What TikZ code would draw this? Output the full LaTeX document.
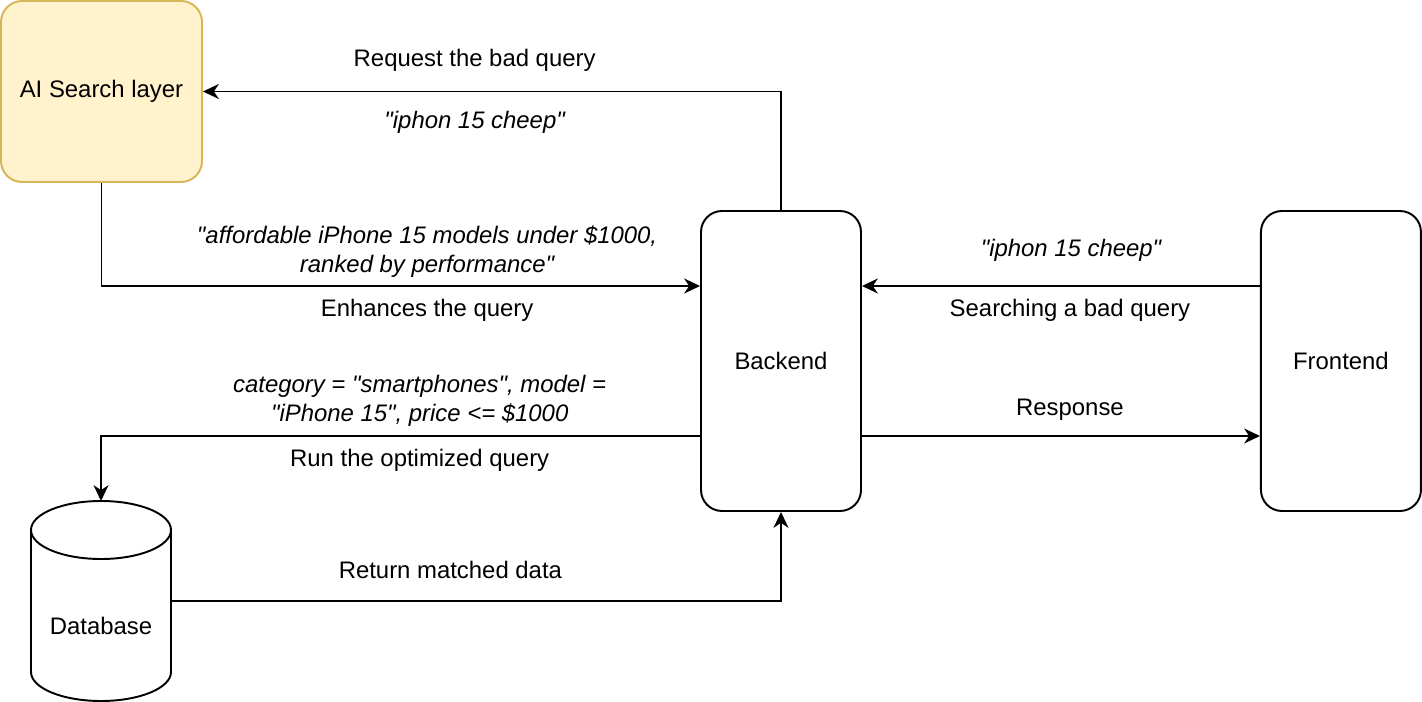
\documentclass[tikz,border=0pt]{standalone}
\usepackage{fontspec}
\setmainfont{Liberation Sans}[Ligatures=TeXOff]
\usepackage{xcolor}
\usepackage{tikz}
\usetikzlibrary{positioning,arrows.meta}
\definecolor{aifill}{HTML}{FFF2CC}
\definecolor{aidraw}{HTML}{D6B656}

\begin{document}
\begin{tikzpicture}[>={Stealth[length=9pt,width=8.5pt,inset=2.8pt]},
  every node/.style={font=\fontsize{13.6}{16.5}\selectfont, align=center},
  box/.style={draw, line width=1.1pt, rounded corners=0.42cm, minimum width=3.2cm, minimum height=6cm},
  conn/.style={->, line width=1.1pt},
  qry/.style={font=\fontsize{13.6}{16.5}\selectfont\itshape}]
  \useasboundingbox (0,0) rectangle (28.44,-14.04);
  \node[box, fill=aifill, draw=aidraw, minimum width=4.02cm, minimum height=3.62cm] (ai) at (2.03,-1.83) {AI Search layer};
  \node[box] (backend) at (15.62,-7.22) {Backend};
  \node[box, right=7.96cm of backend] (frontend) {Frontend};
  \node[minimum width=2.8cm, minimum height=4cm, outer sep=0pt] (db) at (2.02,-12.02) {};
  % cylinder for the database
  \draw[line width=1.1pt, fill=white] ([yshift=-0.58cm]db.north west) -- ([yshift=0.58cm]db.south west)
    arc[start angle=180, end angle=360, x radius=1.4cm, y radius=0.58cm] -- ([yshift=-0.58cm]db.north east)
    arc[start angle=0, end angle=180, x radius=1.4cm, y radius=0.58cm] -- cycle;
  \draw[line width=1.1pt] ([yshift=-0.58cm]db.north west) arc[start angle=180, end angle=360, x radius=1.4cm, y radius=0.58cm];
  \node (dbtext) at ([yshift=-0.5cm]db.center) {Database};
  \draw[conn] (backend.north) |- (ai.east)
    node[pos=.765, yshift=.62cm] {Request the bad query}
    node[qry, pos=.765, yshift=-.62cm] {"iphon 15 cheep"};
  \draw[conn] (ai.south) |- ([yshift=1.5cm]backend.west)
    node[qry, pos=.772, yshift=.69cm] {"affordable iPhone 15 models under \$1000,\\ ranked by performance"}
    node[pos=.772, yshift=-.48cm] {Enhances the query};
  \draw[conn] ([yshift=1.5cm]frontend.west) -- ([yshift=1.5cm]backend.east)
    node[qry, midway, xshift=.2cm, yshift=.72cm] {"iphon 15 cheep"}
    node[midway, xshift=.18cm, yshift=-.48cm] {Searching a bad query};
  \draw[conn] ([yshift=-1.5cm]backend.east) -- ([yshift=-1.5cm]frontend.west)
    node[midway, xshift=.18cm, yshift=.52cm] {Response};
  \draw[conn] ([yshift=-1.5cm]backend.west) -| (db.north)
    node[qry, pos=.234, yshift=.7cm] {category = "smartphones", model =\\ "iPhone 15", price <= \$1000}
    node[pos=.234, yshift=-.48cm] {Run the optimized query};
  \draw[conn] (db.east) -| (backend.south)
    node[pos=.229, yshift=.62cm] {Return matched data};
\end{tikzpicture}
\end{document}
